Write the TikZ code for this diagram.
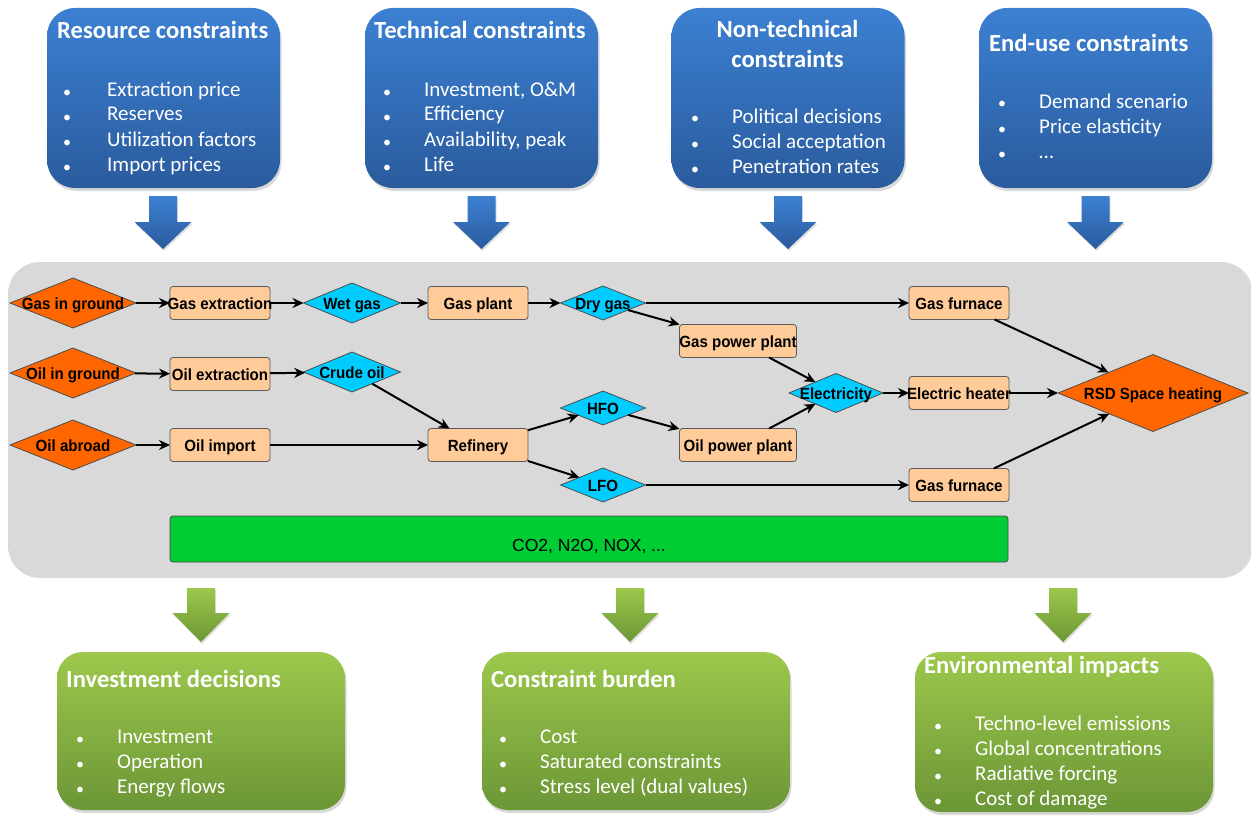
\documentclass[tikz,border=0pt]{standalone}
\usepackage{fontspec}
\newfontfamily\boxfont{Carlito}
\newfontfamily\netfont[FakeStretch=0.93]{Liberation Sans}
\newfontfamily\plainsans{Liberation Sans}
\usetikzlibrary{arrows.meta,shapes.geometric,shadows}

\definecolor{panelgray}{HTML}{D9D9D9}
\definecolor{blueTop}{HTML}{3C80D2}
\definecolor{blueBot}{HTML}{2A5B9D}
\definecolor{greenTop}{HTML}{9DC84C}
\definecolor{greenBot}{HTML}{6B9636}
\definecolor{srcorange}{HTML}{FF6600}
\definecolor{carrier}{HTML}{00CCFF}
\definecolor{techpeach}{HTML}{FFCC99}
\definecolor{emisgreen}{HTML}{00CC33}

% bulleted list: prefix, bullet x, text x, first baseline, items
\newcommand\itemlist[5]{%
  \foreach \t [count=\k from 0] in {#5}{%
    \node[itembullet] (#1b\k) at (#2,#4+25*\k) {•};
    \node[itemtext] (#1t\k) at (#3,#4+25*\k) {\t};
  }}

% fat downward arrow: centre x, top, start of head, tip, style
\newcommand\fatarrow[5]{%
  \path[#5] (#1-14,#2) -- (#1+14,#2) -- (#1+14,#3) -- (#1+28.5,#3)
    -- (#1,#4) -- (#1-28.5,#3) -- (#1-14,#3) -- cycle;}

\begin{document}
\begin{tikzpicture}[x=1pt,y=-1pt,
  softshadow/.style={drop shadow={opacity=0.3,shadow xshift=1.5pt,shadow yshift=-3pt}},
  topbox/.style={rectangle,rounded corners=28pt,top color=blueTop,bottom color=blueBot,
    minimum width=233,minimum height=180,inner sep=0pt,softshadow},
  botbox/.style={rectangle,rounded corners=26pt,top color=greenTop,bottom color=greenBot,
    minimum height=158,inner sep=0pt,softshadow},
  boxtitle/.style={anchor=base west,inner sep=0pt,text=white,
    font=\boxfont\bfseries\fontsize{24.6}{29}\selectfont},
  itemtext/.style={anchor=base west,inner sep=0pt,text=white,
    font=\boxfont\fontsize{21}{25}\selectfont},
  itembullet/.style={anchor=base,inner sep=0pt,text=white,yshift=-1pt,
    font=\boxfont\fontsize{16}{20}\selectfont},
  bluearrow/.style={top color=blueTop,bottom color=blueBot,
    drop shadow={opacity=0.25,shadow xshift=1pt,shadow yshift=-2pt}},
  greenarrow/.style={top color=greenTop,bottom color=greenBot,
    drop shadow={opacity=0.25,shadow xshift=1pt,shadow yshift=-2pt}},
  netnode/.style={inner sep=0pt,outer sep=0pt,line width=0.8pt,
    text height=12.5pt,text depth=0pt,
    font=\netfont\bfseries\fontsize{16.2}{19}\selectfont,
    execute at begin node={\hbox to 0pt\bgroup\hss},
    execute at end node={\hss\egroup}},
  procbox/.style={netnode,rectangle,rounded corners=3pt,draw=black!65,fill=techpeach,
    minimum width=100,minimum height=33},
  resdiamond/.style={netnode,diamond,draw=black!70,fill=srcorange,
    minimum width=126,minimum height=50},
  flowdiamond/.style={netnode,diamond,draw=black!70,fill=carrier,
    minimum width=85,minimum height=34},
  flow/.style={line width=2pt,-{Stealth[length=11pt,width=10pt]}}
]
\useasboundingbox (0,0) rectangle (1251,816);

% ---- constraint boxes (inputs)
\node[topbox] (resbox)  at (163.5,98) {};
\node[topbox] (techbox) at (481.5,98) {};
\node[topbox] (ntbox)   at (788,98)   {};
\node[topbox] (eubox)   at (1095.5,98) {};

\node[boxtitle] (restitle) at (57,39) {Resource constraints};
\node[boxtitle] (techtitle) at (374,39) {Technical constraints};
\node[boxtitle,anchor=base] (nttitleA) at (787.5,38) {Non-technical};
\node[boxtitle,anchor=base] (nttitleB) at (787.5,67) {constraints};
\node[boxtitle] (eutitle) at (989,52) {End-use constraints};

\itemlist{r}{67}{107}{96}{Extraction price,Reserves,Utilization factors,Import prices}
\itemlist{t}{387}{424}{96}{{Investment, O\&M},Efficiency,{Availability, peak},Life}
\itemlist{n}{695}{732}{123}{Political decisions,Social acceptation,Penetration rates}
\itemlist{e}{1002}{1039}{108}{Demand scenario,Price elasticity,…}

\fatarrow{163}{196}{222}{249}{bluearrow}
\fatarrow{481.5}{196}{222}{249}{bluearrow}
\fatarrow{788}{196}{222}{249}{bluearrow}
\fatarrow{1095.5}{196}{222}{249}{bluearrow}

% ---- energy system panel
\path[fill=panelgray,rounded corners=32pt] (8,262) rectangle (1253,578);

\node[resdiamond] (gasground) at (73,303) {Gas in ground};
\node[resdiamond] (oilground) at (73,373) {Oil in ground};
\node[resdiamond] (oilabroad) at (73,445) {Oil abroad};

\node[procbox] (gasext) at (220,303) {Gas extraction};
\node[procbox] (oilext) at (220,374) {Oil extraction};
\node[procbox] (oilimp) at (220,445) {Oil import};

\node[flowdiamond,minimum width=97,minimum height=40] (wetgas) at (352,303) {Wet gas};
\node[flowdiamond,minimum width=97,minimum height=40] (crude) at (352,372) {Crude oil};

\node[procbox] (gasplant) at (478,303) {Gas plant};
\node[procbox] (refinery) at (478,445) {Refinery};

\node[flowdiamond] (drygas) at (603,303) {Dry gas};
\node[flowdiamond] (hfo) at (603,408) {HFO};
\node[flowdiamond] (lfo) at (603,485) {LFO};

\node[procbox,minimum width=117] (gaspp) at (738,341) {Gas power plant};
\node[procbox,minimum width=117] (oilpp) at (738,445) {Oil power plant};

\node[flowdiamond,minimum width=94,minimum height=39] (elec) at (836,393) {Electricity};

\node[procbox] (furnaceA) at (959,303) {Gas furnace};
\node[procbox] (heater) at (959,393) {Electric heater};
\node[procbox] (furnaceB) at (959,485) {Gas furnace};

\node[resdiamond,minimum width=190,minimum height=77] (rsd) at (1153,393) {RSD Space heating};

\node[rectangle,rounded corners=3pt,draw=black!70,line width=0.8pt,fill=emisgreen,
  minimum width=838,minimum height=46,inner sep=0pt,text height=25pt,text depth=0pt,
  font=\plainsans\fontsize{17.5}{21}\selectfont] (emis) at (589,539) {CO2, N2O, NOX, ...};

\draw[flow] (gasground) -- (gasext);
\draw[flow] (gasext) -- (wetgas);
\draw[flow] (wetgas) -- (gasplant);
\draw[flow] (gasplant) -- (drygas);
\draw[flow] (drygas) -- (furnaceA);
\draw[flow] (drygas) -- (gaspp);
\draw[flow] (oilground) -- (oilext);
\draw[flow] (oilext) -- (crude);
\draw[flow] (crude) -- (refinery);
\draw[flow] (oilabroad) -- (oilimp);
\draw[flow] (oilimp) -- (refinery);
\draw[flow] (refinery) -- (hfo);
\draw[flow] (refinery) -- (lfo);
\draw[flow] (hfo) -- (oilpp);
\draw[flow] (gaspp) -- (elec);
\draw[flow] (oilpp) -- (elec);
\draw[flow] (elec) -- (heater);
\draw[flow] (lfo) -- (furnaceB);
\draw[flow] (furnaceA) -- (rsd);
\draw[flow] (heater) -- (rsd);
\draw[flow] (furnaceB) -- (rsd);

% ---- result boxes (outputs)
\fatarrow{201}{588}{613}{642}{greenarrow}
\fatarrow{630}{588}{613}{642}{greenarrow}
\fatarrow{1063}{588}{613}{642}{greenarrow}

\node[botbox,minimum width=288] (invbox) at (201,731) {};
\node[botbox,minimum width=308] (burdenbox) at (636,731) {};
\node[botbox,minimum width=298,minimum height=160] (envbox) at (1064,732) {};

\node[boxtitle] (invtitle) at (66,687) {Investment decisions};
\node[boxtitle] (burdentitle) at (491,687) {Constraint burden};
\node[boxtitle] (envtitle) at (924,673) {Environmental impacts};

\itemlist{i}{80}{117}{743}{Investment,Operation,Energy flows}
\itemlist{c}{503}{540}{743}{Cost,Saturated constraints,Stress level (dual values)}
\itemlist{v}{938}{975}{730}{Techno-level emissions,Global concentrations,Radiative forcing,Cost of damage}
\end{tikzpicture}
\end{document}
